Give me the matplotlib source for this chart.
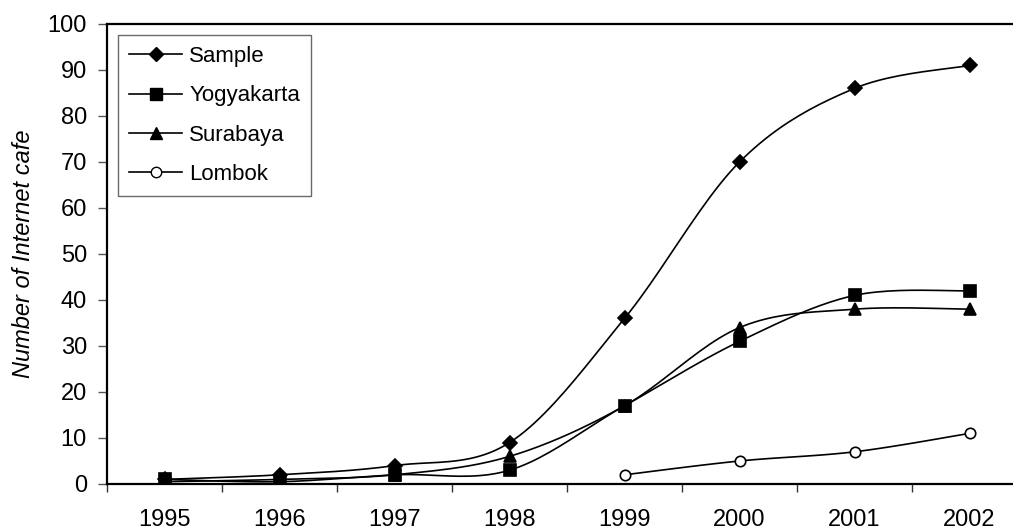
import numpy as np
import matplotlib
matplotlib.use('Agg')
import matplotlib.pyplot as plt

plt.rcParams['font.family'] = ['Liberation Sans', 'DejaVu Sans']

# data
years = ['1995', '1996', '1997', '1998', '1999', '2000', '2001', '2002']
sample = [1, 2, 4, 9, 36, 70, 86, 91]
yogyakarta = [1, 0.5, 2, 3, 17, 31, 41, 42]
surabaya = [0.5, 1, 2, 6, 17, 34, 38, 38]
lombok_years = ['1999', '2000', '2001', '2002']
lombok = [2, 5, 7, 11]


def smooth(xs, ys, n=24):
    # Bezier smoothing like the Excel "smoothed line" option
    xs = np.asarray(xs, float)
    ys = np.asarray(ys, float)
    px, py = [], []
    k = len(xs)
    for i in range(k - 1):
        i0, i3 = max(i - 1, 0), min(i + 2, k - 1)
        p0 = np.array([xs[i], ys[i]])
        p3 = np.array([xs[i + 1], ys[i + 1]])
        c1 = p0 + (p3 - np.array([xs[i0], ys[i0]])) / 6.0
        c2 = p3 - (np.array([xs[i3], ys[i3]]) - p0) / 6.0
        t = np.linspace(0, 1, n)[:, None]
        pts = (1 - t) ** 3 * p0 + 3 * (1 - t) ** 2 * t * c1 + 3 * (1 - t) * t ** 2 * c2 + t ** 3 * p3
        px.extend(pts[:, 0])
        py.extend(pts[:, 1])
    return px, py


W, H = 1013, 531
fig = plt.figure(figsize=(W / 100, H / 100), dpi=100)
ax = fig.add_axes([107 / W, (H - 484) / H, 920 / W, 460 / H])

xi = np.arange(len(years))
xl = np.array([years.index(y) for y in lombok_years])

series = [
    ('Sample', xi, sample, dict(marker='D', ms=7.5, mfc='black')),
    ('Yogyakarta', xi, yogyakarta, dict(marker='s', ms=8, mfc='black')),
    ('Surabaya', xi, surabaya, dict(marker='^', ms=9, mfc='black')),
    ('Lombok', xl, lombok, dict(marker='o', ms=7.5, mfc='white')),
]
for name, x, y, st in series:
    sx, sy = smooth(x, y)
    ax.plot(sx, sy, color='black', lw=1.2, zorder=2)
    ax.plot(x, y, ls='none', color='black', mec='black', mew=1.2, zorder=3, **st)
    # legend proxy
    ax.plot([], [], color='black', lw=1.2, label=name, **st)

ax.set_xlim(-0.5, 7.5)
ax.set_ylim(0, 100)
ax.set_yticks(np.arange(0, 101, 10))
ax.tick_params(axis='y', labelsize=17, length=6.5, width=1, color='#555555', pad=8)

ax.set_xticks(np.arange(-0.5, 8, 1))
ax.set_xticklabels([])
ax.set_xticks(xi, minor=True)
ax.set_xticklabels(years, minor=True)
ax.tick_params(axis='x', which='major', length=6, width=1, color='#333333')
ax.tick_params(axis='x', which='minor', length=0, labelsize=17, pad=18)

for s in ['left', 'bottom', 'top', 'right']:
    ax.spines[s].set_linewidth(1.6)
    ax.spines[s].set_color('black')

ax.set_ylabel('Number of Internet cafe', fontsize=17, style='italic', labelpad=9)

leg = ax.legend(loc='upper left', bbox_to_anchor=(118 / W, 1 - 35 / H), bbox_transform=fig.transFigure,
                fontsize=16, frameon=True, fancybox=False, handlelength=2.4, handletextpad=0.3,
                labelspacing=0.82, borderpad=0.5, borderaxespad=0)
leg.get_frame().set_edgecolor('#444444')
leg.get_frame().set_linewidth(1.0)

fig.savefig('out.png', dpi=100)
